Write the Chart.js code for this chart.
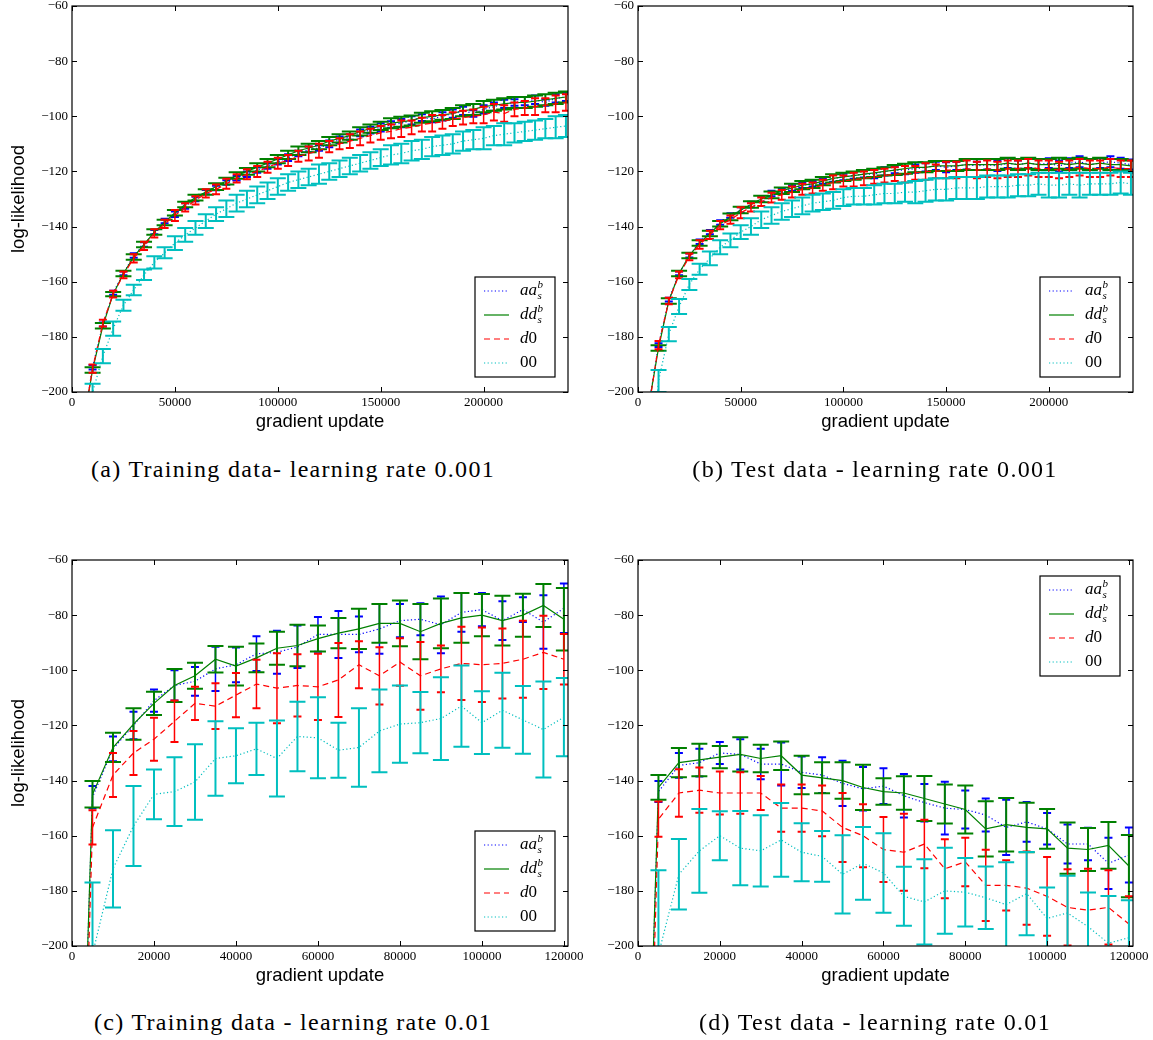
<!DOCTYPE html>
<html>
<head>
<meta charset="utf-8">
<script src="https://cdn.jsdelivr.net/npm/chart.js@4.4.0/dist/chart.umd.min.js"></script>
<style>
  html, body { margin: 0; padding: 0; background: #fff; }
  body { width: 1153px; height: 1040px; position: relative; overflow: hidden; }
  canvas { position: absolute; }
  .cap { position: absolute; width: 580px; text-align: center; font-family: 'Liberation Serif', serif; font-size: 24px; letter-spacing: 1.3px; line-height: 28px; color: #000; }
</style>
</head>
<body>
<canvas id="chartA" width="590" height="440" style="left:0;top:0"></canvas>
<canvas id="chartB" width="587" height="440" style="left:566px;top:0"></canvas>
<canvas id="chartC" width="590" height="440" style="left:0;top:554px"></canvas>
<canvas id="chartD" width="587" height="440" style="left:566px;top:554px"></canvas>
<div class="cap" style="left:3px;top:455px">(a) Training data- learning rate 0.001</div>
<div class="cap" style="left:585px;top:455px">(b) Test data - learning rate 0.001</div>
<div class="cap" style="left:3px;top:1008px">(c) Training data - learning rate 0.01</div>
<div class="cap" style="left:585px;top:1008px">(d) Test data - learning rate 0.01</div>
<script>
// legend names: letters italic, digits upright; sup/sub parts
var seriesNames = ['aa', 'dd', 'd0', '00'];
var seriesSup = ['b', 'b', '', ''];
var seriesSub = ['s', 's', '', ''];

// axis ticks
var xTicksSlow = [0, 50000, 100000, 150000, 200000];
var xTicksFast = [0, 20000, 40000, 60000, 80000, 100000, 120000];
var yTicks = [-200, -180, -160, -140, -120, -100, -80, -60];

// gradient updates, learning rate 0.001
var xSlow = [5000, 10000, 15000, 20000, 25000, 30000, 35000, 40000, 45000, 50000,
  55000, 60000, 65000, 70000, 75000, 80000, 85000, 90000, 95000, 100000,
  105000, 110000, 115000, 120000, 125000, 130000, 135000, 140000, 145000, 150000,
  155000, 160000, 165000, 170000, 175000, 180000, 185000, 190000, 195000, 200000,
  205000, 210000, 215000, 220000, 225000, 230000, 235000, 240000];
// gradient updates, learning rate 0.01
var xFast = [0, 5000, 10000, 15000, 20000, 25000, 30000, 35000, 40000, 45000, 50000,
  55000, 60000, 65000, 70000, 75000, 80000, 85000, 90000, 95000, 100000,
  105000, 110000, 115000, 120000];

// (a) training, lr 0.001
var trainSlowAA = [-214, -191, -175.5, -164, -157, -150.5, -146.5, -142, -138, -135.5,
  -132.5, -130, -127.5, -126, -124, -122.5, -121, -119.5, -118, -116.5,
  -115, -113.5, -112, -111.5, -110, -108.5, -107.5, -106, -105, -104,
  -103, -102.5, -101.5, -100.5, -101, -100, -99, -98, -99, -97.5,
  -96.5, -95.5, -95, -94.5, -94, -95, -93.5, -93];
var trainSlowDD = [-214, -192, -176, -164.5, -157, -151, -146.5, -142, -138.5, -135,
  -132, -129.5, -127.5, -125.5, -123.5, -121.5, -120, -118.5, -117, -115.5,
  -114, -112.5, -111.5, -110.5, -109, -108, -107, -105.5, -104.5, -103.5,
  -102.5, -102, -101.5, -100.5, -100, -99.5, -99, -98, -97.5, -96.5,
  -96, -95.5, -95, -95, -94.5, -94, -93.5, -93];
var trainSlowD0 = [-214, -191.5, -175, -164.5, -157.5, -151.5, -147, -142.5, -139, -136,
  -133, -130.5, -128, -126.5, -124.5, -122.5, -121, -120, -118.5, -117,
  -116, -114.5, -113.5, -112.5, -111, -110, -109, -108, -107, -106,
  -105.5, -104.5, -104, -103, -102.5, -102, -101, -100.5, -100, -99.5,
  -98.5, -99, -97.5, -97, -96.5, -96, -95.5, -95];
var trainSlow00 = [-232, -200, -187, -177, -168.5, -163, -157.5, -153, -149.5, -146,
  -143, -140.5, -138, -135.5, -133.5, -131.5, -130, -128.5, -127, -125.5,
  -124, -123, -122, -121, -120, -119, -118, -117, -116, -115,
  -114, -113.5, -112.5, -112, -111, -110.5, -110, -109, -108.5, -108,
  -107, -106.5, -106, -105.5, -105, -104.5, -104, -103.5];
var trainSlowAAErr = [0.8, 0.8, 0.7, 0.7, 0.7, 0.8, 0.8, 0.8, 0.8, 1, 1, 0.8, 0.8, 0.8, 0.8, 0.8, 1, 1, 1, 1,
  1.2, 1, 1, 1, 1.2, 1.2, 1, 1.2, 1.2, 1.5, 1.2, 1.5, 1.5, 1.2, 1.2, 1.5, 1.5, 1.5, 1.2, 1.5,
  1.5, 1.5, 1.2, 1.5, 1.5, 1.2, 1.5, 1.5];
var trainSlowDDErr = [1, 1, 1, 0.8, 1, 1, 1, 1, 1, 1, 1, 1, 1, 1.2, 1.2, 1.2, 1.2, 1.5, 1.5, 1.5,
  1.5, 1.5, 1.5, 1.5, 1.5, 1.5, 1.5, 1.5, 1.5, 1.5, 1.8, 1.8, 1.8, 1.8, 1.8, 1.8, 2, 2, 2, 2,
  2, 2, 2, 2, 2, 2, 2, 2];
var trainSlowD0Err = [1.5, 1.5, 1.2, 1.2, 1.2, 1.5, 1.5, 1.5, 1.5, 2, 1.5, 1.5, 1.5, 1.8, 1.8, 1.5, 1.8, 2, 2, 2,
  2, 2, 2.5, 2.5, 2, 2, 2.5, 2.5, 2.5, 2.5, 2.5, 3, 2.5, 2.5, 3, 2.5, 2.5, 2.5, 2.5, 3,
  3, 3, 2.5, 2.5, 3, 2.5, 3, 3];
var trainSlow00Err = [3, 3, 2.6, 2.6, 2, 1.9, 1.9, 2.2, 2, 2.5, 2.5, 2.5, 2.5, 2.5, 3, 3, 3, 3, 3, 3,
  3, 3, 3, 3.5, 3, 3, 3, 3, 3, 3, 3.5, 3.5, 3.5, 3.5, 3.5, 3.5, 3.5, 3.5, 3.5, 4,
  3.5, 4, 3.5, 3.5, 3.5, 3.5, 4, 4];

// (b) test, lr 0.001
var testSlowAA = [-206, -183, -166.5, -157, -150.5, -145.5, -142, -138.5, -136, -134,
  -132, -130, -128, -127, -126, -125, -124.5, -123.5, -122.5, -122,
  -121.5, -121, -121, -120, -119.5, -119.5, -119, -118.5, -118, -118.5,
  -118, -117.5, -118, -117.5, -118, -117, -117.5, -117, -117.5, -117,
  -118, -117, -116.5, -117.5, -117, -116.5, -117, -117.5];
var testSlowDD = [-206, -184, -167, -157, -150.5, -146, -142.5, -139, -136.5, -134,
  -132, -130, -128.5, -127, -126, -125, -124.5, -123.5, -122.5, -122,
  -121.5, -121, -120.5, -120, -119.5, -119, -118.5, -118.5, -118, -118,
  -118, -117.5, -117.5, -117.5, -117.5, -117, -117.5, -117, -117.5, -117.5,
  -117, -117.5, -117, -117.5, -117, -117.5, -117.5, -118];
var testSlowD0 = [-207, -183, -167, -157.5, -151, -146.5, -143, -139.5, -137.5, -135,
  -133, -131, -129.5, -128.5, -127.5, -126.5, -126, -125, -124, -123.5,
  -123, -122.5, -122, -121.5, -121, -121, -120.5, -120, -120, -119.5,
  -119.5, -119, -119.5, -119, -119.5, -119, -119, -118.5, -119, -119,
  -119.5, -119, -118.5, -119, -119, -118.5, -119, -119];
var testSlow00 = [-232, -196, -179, -169, -161, -155.5, -151.5, -147.5, -145, -142,
  -140, -137.5, -136, -134.5, -133.5, -132.5, -131.5, -131, -130.5, -129.5,
  -129, -129, -128.5, -128, -128, -127.5, -127.5, -127, -126.5, -126.5,
  -126, -126, -126, -125.5, -125.5, -125.5, -125, -125, -124.5, -125,
  -125, -124.5, -125, -124.5, -124.5, -124.5, -124, -124.5];
var testSlowAAErr = [0.7, 0.7, 0.7, 0.7, 0.7, 0.8, 0.8, 0.8, 0.8, 1, 1, 1, 1, 1, 1, 1, 1, 1, 1.2, 1.2,
  1.2, 1.2, 1.5, 1.5, 1.2, 1.5, 1.5, 1.5, 1.5, 1.8, 1.5, 1.8, 1.5, 1.8, 1.8, 1.8, 1.5, 1.8, 2, 1.8,
  2, 1.8, 2, 2, 1.8, 2, 2, 1.8];
var testSlowDDErr = [1, 1, 1, 1, 1, 1, 1, 1, 1.2, 1.2, 1.2, 1.2, 1.2, 1.2, 1.5, 1.5, 1.5, 1.5, 1.5, 1.5,
  1.5, 1.5, 1.5, 1.5, 1.8, 1.8, 1.8, 1.8, 1.8, 1.8, 1.8, 2, 2, 2, 2, 2, 2, 2, 2, 2,
  2, 2, 2, 2, 2, 2, 2, 2];
var testSlowD0Err = [1.5, 1.5, 1.2, 1.2, 1.2, 1.5, 1.5, 1.5, 1.5, 2, 1.5, 1.5, 1.8, 1.8, 2, 2, 2, 2, 2.5, 2,
  2.5, 2.5, 2.5, 2.5, 2.5, 3, 2.5, 3, 2.5, 3, 3, 3, 3, 3, 3, 3, 3, 3, 3, 3,
  3, 3, 3, 3, 3, 3, 3, 3];
var testSlow00Err = [4, 4, 2.6, 2.7, 2, 2, 2.5, 2.5, 2.5, 2.5, 3, 3, 3, 3, 3, 3, 3, 3, 3, 3,
  3, 3, 3.5, 3.5, 3.5, 3.5, 4, 4, 4, 4, 4, 4, 4, 4, 4, 4, 4, 4, 4, 4.5,
  4.5, 4, 4.5, 4, 4, 4, 4, 4];

// (c) training, lr 0.01
var trainFastAA = [-380, -146, -128.5, -120, -111, -105.5, -104, -99.5, -98, -94, -93.5,
  -91.5, -87, -87, -87, -85, -82, -81.5, -83.5, -79, -78,
  -82, -78, -82.5, -77.5];
var trainFastDD = [-380, -145, -128, -119.5, -112, -105.5, -102, -96, -98.5, -95.5, -92,
  -91, -88.5, -86.5, -85, -83, -83, -86, -83, -81, -80,
  -82, -80, -76.5, -81.5];
var trainFastD0 = [-400, -157, -138, -130, -125, -118.5, -112, -113, -109, -105, -106.5,
  -105.5, -106, -103.5, -98, -102, -97, -102, -99.5, -97.5, -98,
  -97.5, -96, -93.5, -96];
var trainFast00 = [-420, -203, -172, -156.5, -145, -144, -140.5, -132, -131, -128.5, -132,
  -124, -124.5, -129, -128, -122, -119.5, -119, -117.5, -113, -119,
  -114.5, -118, -121.5, -117];
var trainFastAAErr = [0, 4, 4.5, 5, 4, 5.5, 5.2, 8, 6.3, 6.3, 7.8, 7.7, 6.3, 8.5, 6.5, 9, 6, 5.8, 10.3, 7, 6, 7, 4.5, 9.7, 9];
var trainFastDDErr = [0, 4.8, 5.3, 5.7, 4.2, 6, 4.7, 4.8, 7, 5.2, 6, 7.5, 4.7, 5.5, 7.3, 7, 8.3, 10, 9, 9, 7.7, 9, 7.8, 7.8, 11.3];
var trainFastD0Err = [0, 6.2, 8, 8, 7.8, 7.5, 6, 8.3, 8, 8.8, 12.7, 11.3, 12, 13.4, 8.5, 10.4, 8.6, 12.3, 8.5, 13.3, 13.5, 12.7, 14, 13.3, 9.2];
var trainFast00Err = [0, 26, 14, 14.5, 9, 12.5, 13.7, 13.5, 10, 9.5, 13.8, 12.6, 14.7, 10, 14.2, 15, 14, 11.1, 15, 14.7, 11.4, 13.6, 12.3, 17.4, 14.2];

// (d) test, lr 0.01
var testFastAA = [-380, -144, -134.5, -133.5, -130, -130.5, -134, -134, -137, -138, -141,
  -143, -142, -145.5, -148, -150, -150.5, -152.5, -157, -155, -157.5,
  -163, -163, -170, -167];
var testFastDD = [-380, -142.5, -133.5, -132.5, -131.5, -130.5, -132, -131, -138, -139, -140,
  -142.5, -144, -144.5, -146.5, -148.5, -150.5, -157.5, -156, -157, -157.5,
  -164.5, -165, -163.5, -171];
var testFastD0 = [-400, -154, -144.5, -143.5, -144.5, -144.5, -144.5, -150, -150, -151, -157,
  -160, -165, -166, -163, -172, -169.5, -178, -178, -179, -182,
  -186, -187, -186, -192];
var testFast00 = [-420, -203, -174, -165.5, -160, -164.5, -165.5, -161.5, -166, -167.5, -174,
  -170, -173.5, -182, -184, -180, -180.5, -182.5, -185, -181, -190,
  -188, -193, -199, -197];
var testFastAAErr = [0, 3.8, 4.5, 5, 4, 5.5, 5.5, 7.8, 5.7, 6.5, 8.2, 7.9, 6.5, 7.9, 6.8, 9.6, 6.9, 6, 10, 7.2, 5.7, 7.1, 5.9, 9.3, 10];
var testFastDDErr = [0, 4.5, 5.3, 5.9, 4, 6.2, 5, 5.2, 7, 5.6, 6.6, 8.2, 4.8, 6.1, 8.2, 7.1, 8.7, 10, 9.7, 9, 7.2, 9.3, 7.8, 8.5, 11.3];
var testFastD0Err = [0, 6.4, 8.6, 8.2, 7.8, 7.5, 6.2, 8.6, 8.6, 9.2, 12.5, 11.4, 11.8, 14, 8.8, 10.7, 8.8, 12.9, 9.1, 13.3, 14.3, 13.8, 15, 13.5, 10];
var testFast00Err = [0, 30.5, 12.8, 15.2, 8.9, 13.5, 12.9, 13.4, 10.5, 9.2, 14.2, 13.2, 14.4, 10.7, 15.5, 15.6, 12.4, 11.3, 15.4, 15.1, 11.2, 13.5, 12.4, 17.1, 13.6];

var tickFont = { family: 'Liberation Serif', size: 13 };

function drawMathLabel(ctx, name, sup, sub, x, cy) {
  ctx.fillStyle = '#000';
  ctx.textBaseline = 'middle';
  ctx.textAlign = 'left';
  var cx = x;
  for (var k = 0; k < name.length; k++) {
    var ch = name[k];
    ctx.font = (/\d/.test(ch) ? '' : 'italic ') + '17px "Liberation Serif"';
    ctx.fillText(ch, cx, cy);
    cx += ctx.measureText(ch).width;
  }
  ctx.font = 'italic 11px "Liberation Serif"';
  if (sup) ctx.fillText(sup, cx + 0.5, cy - 6);
  if (sub) ctx.fillText(sub, cx + 0.5, cy + 5);
}

var errorBars = {
  id: 'errorBars',
  afterDatasetDraw: function (chart, args) {
    var ds = chart.data.datasets[args.index];
    if (!ds.errors) return;
    var ctx = chart.ctx, a = chart.chartArea, x = chart.scales.x, y = chart.scales.y;
    ctx.save();
    ctx.beginPath();
    ctx.rect(a.left, a.top, a.right - a.left, a.bottom - a.top);
    ctx.clip();
    ctx.strokeStyle = ds.borderColor;
    ds.data.forEach(function (p, i) {
      var e = ds.errors[i];
      if (!e) return;
      var px = x.getPixelForValue(p.x);
      var y1 = y.getPixelForValue(p.y + e), y2 = y.getPixelForValue(p.y - e);
      ctx.lineWidth = ds.barWidth;
      ctx.beginPath();
      ctx.moveTo(px, y1); ctx.lineTo(px, y2);
      ctx.stroke();
      ctx.lineWidth = 2;
      ctx.beginPath();
      ctx.moveTo(px - ds.capHalf, y1); ctx.lineTo(px + ds.capHalf, y1);
      ctx.moveTo(px - ds.capHalf, y2); ctx.lineTo(px + ds.capHalf, y2);
      ctx.stroke();
    });
    ctx.restore();
  },
  afterDraw: function (chart, args, opts) {
    var ctx = chart.ctx, a = chart.chartArea, x = chart.scales.x, y = chart.scales.y;
    ctx.save();
    ctx.strokeStyle = '#000';
    ctx.lineWidth = 1.2;
    ctx.strokeRect(a.left, a.top, a.right - a.left, a.bottom - a.top);
    ctx.lineWidth = 1;
    ctx.beginPath();
    x.ticks.forEach(function (t) {
      var px = Math.round(x.getPixelForValue(t.value)) + 0.5;
      ctx.moveTo(px, a.bottom); ctx.lineTo(px, a.bottom - 5);
      ctx.moveTo(px, a.top); ctx.lineTo(px, a.top + 5);
    });
    y.ticks.forEach(function (t) {
      var py = Math.round(y.getPixelForValue(t.value)) + 0.5;
      ctx.moveTo(a.left, py); ctx.lineTo(a.left + 5, py);
      ctx.moveTo(a.right, py); ctx.lineTo(a.right - 5, py);
    });
    ctx.stroke();

    // legend box inside the axes
    var w = 80, h = 100;
    var bx = a.right - 13 - w;
    var by = opts.legendPos === 'top' ? a.top + 16 : a.bottom - 15 - h;
    ctx.fillStyle = '#fff';
    ctx.fillRect(bx, by, w, h);
    ctx.lineWidth = 1.2;
    ctx.strokeRect(bx, by, w, h);
    chart.data.datasets.forEach(function (ds, i) {
      var cy = by + 14 + i * 24;
      ctx.strokeStyle = ds.borderColor;
      ctx.lineWidth = ds.borderWidth;
      ctx.setLineDash(ds.borderDash || []);
      ctx.beginPath();
      ctx.moveTo(bx + 9, cy); ctx.lineTo(bx + 34, cy);
      ctx.stroke();
      ctx.setLineDash([]);
      drawMathLabel(ctx, seriesNames[i], seriesSup[i], seriesSub[i], bx + 45, cy);
    });
    ctx.restore();
  }
};

function pts(xs, ys) {
  return xs.map(function (v, i) { return { x: v, y: ys[i] }; });
}

function makeChart(id, xs, vals, errs, xMax, xTicks, showYTitle, legendPos, padRight) {
  var colors = ['#0000ff', '#008000', '#ff0000', '#00bfbf'];
  var dashes = [[1.2, 2.4], [], [6, 4], [1.2, 2.4]];
  var caps = [4, 8, 4, 8];
  var bars = [1.5, 2, 1.5, 2];
  var datasets = vals.map(function (v, k) {
    return {
      label: seriesNames[k],
      data: pts(xs, v),
      errors: errs[k],
      borderColor: colors[k],
      borderWidth: 1.2,
      borderDash: dashes[k],
      capHalf: caps[k],
      barWidth: bars[k],
      pointRadius: 0,
      tension: 0,
      fill: false,
      order: 3 - k
    };
  });
  return new Chart(document.getElementById(id), {
    type: 'line',
    data: { datasets: datasets },
    plugins: [errorBars],
    options: {
      responsive: false,
      animation: false,
      devicePixelRatio: 1,
      layout: { padding: { top: 6, right: padRight, left: 0, bottom: 0 } },
      plugins: {
        legend: { display: false },
        tooltip: { enabled: false },
        errorBars: { legendPos: legendPos }
      },
      scales: {
        x: {
          type: 'linear',
          min: 0,
          max: xMax,
          grid: { display: false, drawTicks: false },
          border: { display: false },
          afterBuildTicks: function (s) {
            s.ticks = xTicks.map(function (v) { return { value: v }; });
          },
          afterFit: function (s) { s.height = 48; },
          ticks: {
            autoSkip: false,
            maxRotation: 0,
            padding: 3,
            color: '#000',
            font: tickFont,
            callback: function (v, i, ticks) { return String(ticks[i].value); }
          },
          title: {
            display: true,
            text: 'gradient update',
            color: '#000',
            font: { family: 'Liberation Sans', size: 18.5 },
            padding: { top: 0, bottom: 7 }
          }
        },
        y: {
          min: -200,
          max: -60,
          grid: { display: false, drawTicks: false },
          border: { display: false },
          afterBuildTicks: function (s) {
            s.ticks = yTicks.map(function (v) { return { value: v }; });
          },
          afterFit: function (s) {
            s.width = 72;
            s.paddingTop = 0;
            s.paddingBottom = 0;
          },
          ticks: {
            padding: 4,
            color: '#000',
            font: tickFont,
            callback: function (v, i, ticks) {
              var val = ticks[i].value;
              return (val < 0 ? '\u2212' : '') + Math.abs(val);
            }
          },
          title: {
            display: showYTitle,
            text: 'log-likelihood',
            color: '#000',
            font: { family: 'Liberation Sans', size: 18.5 },
            padding: { top: 8, bottom: 0 }
          }
        }
      }
    }
  });
}

makeChart('chartA', xSlow,
  [trainSlowAA, trainSlowDD, trainSlowD0, trainSlow00],
  [trainSlowAAErr, trainSlowDDErr, trainSlowD0Err, trainSlow00Err],
  241000, xTicksSlow, true, 'bottom', 22);
makeChart('chartB', xSlow,
  [testSlowAA, testSlowDD, testSlowD0, testSlow00],
  [testSlowAAErr, testSlowDDErr, testSlowD0Err, testSlow00Err],
  241000, xTicksSlow, false, 'bottom', 20);
makeChart('chartC', xFast,
  [trainFastAA, trainFastDD, trainFastD0, trainFast00],
  [trainFastAAErr, trainFastDDErr, trainFastD0Err, trainFast00Err],
  121000, xTicksFast, true, 'bottom', 22);
makeChart('chartD', xFast,
  [testFastAA, testFastDD, testFastD0, testFast00],
  [testFastAAErr, testFastDDErr, testFastD0Err, testFast00Err],
  121000, xTicksFast, false, 'top', 20);
</script>
</body>
</html>
